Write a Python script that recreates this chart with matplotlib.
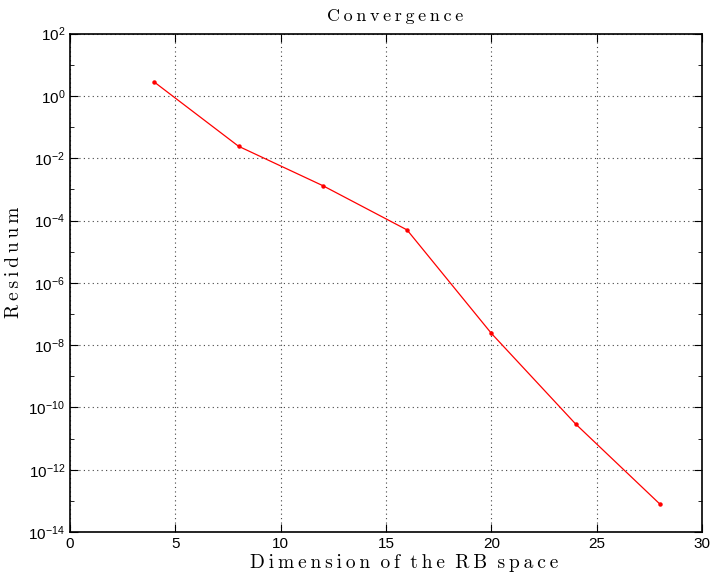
import matplotlib
matplotlib.use('Agg')
import matplotlib.pyplot as plt
import numpy as np

# Residuum vs. dimension of the reduced basis space
dims = [4, 8, 12, 16, 20, 24, 28]
residuum = [2.8, 2.43e-2, 1.32e-3, 5.0e-5, 2.4e-8, 2.95e-11, 7.9e-14]

plt.rcParams['font.family'] = 'Liberation Sans'
plt.rcParams['mathtext.fontset'] = 'custom'
plt.rcParams['mathtext.rm'] = 'Liberation Sans'
plt.rcParams['mathtext.it'] = 'Liberation Sans'
plt.rcParams['mathtext.default'] = 'regular'

THIN = '\u2009'


def spaced(s):
    # LaTeX-ish letter spacing, like the original figure
    return (' ' + THIN).join(THIN.join(w) for w in s.split(' '))


serif = ['cmr10', 'DejaVu Serif']

fig = plt.figure(figsize=(7.11, 5.77), dpi=100)
ax = fig.add_axes([0.0985, 0.078, 0.8888, 0.8636])

ax.semilogy(dims, residuum, color='red', linewidth=0.9, marker='o', markersize=2.2)

ax.set_xlim(0, 30)
ax.set_ylim(1e-14, 1e2)
ax.set_xticks([0, 5, 10, 15, 20, 25, 30])
ax.set_yticks([10.0**k for k in range(-14, 3, 2)])
ax.yaxis.set_minor_locator(matplotlib.ticker.LogLocator(base=10, subs='all', numticks=30))
ax.yaxis.set_minor_formatter(matplotlib.ticker.NullFormatter())

ax.grid(True, which='major', linestyle=(0, (1, 3)), color='#444444', linewidth=0.8)
ax.tick_params(which='both', direction='in', top=True, right=True, labelsize=11)
ax.tick_params(which='major', length=6)
ax.tick_params(which='minor', length=3)
for s in ax.spines.values():
    s.set_linewidth(1.2)

ax.set_title(spaced('Convergence'), fontfamily=serif, fontsize=13, pad=9)
ax.title.set_x(0.515)
ax.set_xlabel(spaced('Dimension of the RB space'), fontfamily=serif, fontsize=14, labelpad=2)
ax.xaxis.label.set_x(0.528)
ax.set_ylabel(spaced('Residuum'), fontfamily=serif, fontsize=14, labelpad=4)
ax.yaxis.label.set_y(0.542)

plt.savefig('out.png', dpi=100)
